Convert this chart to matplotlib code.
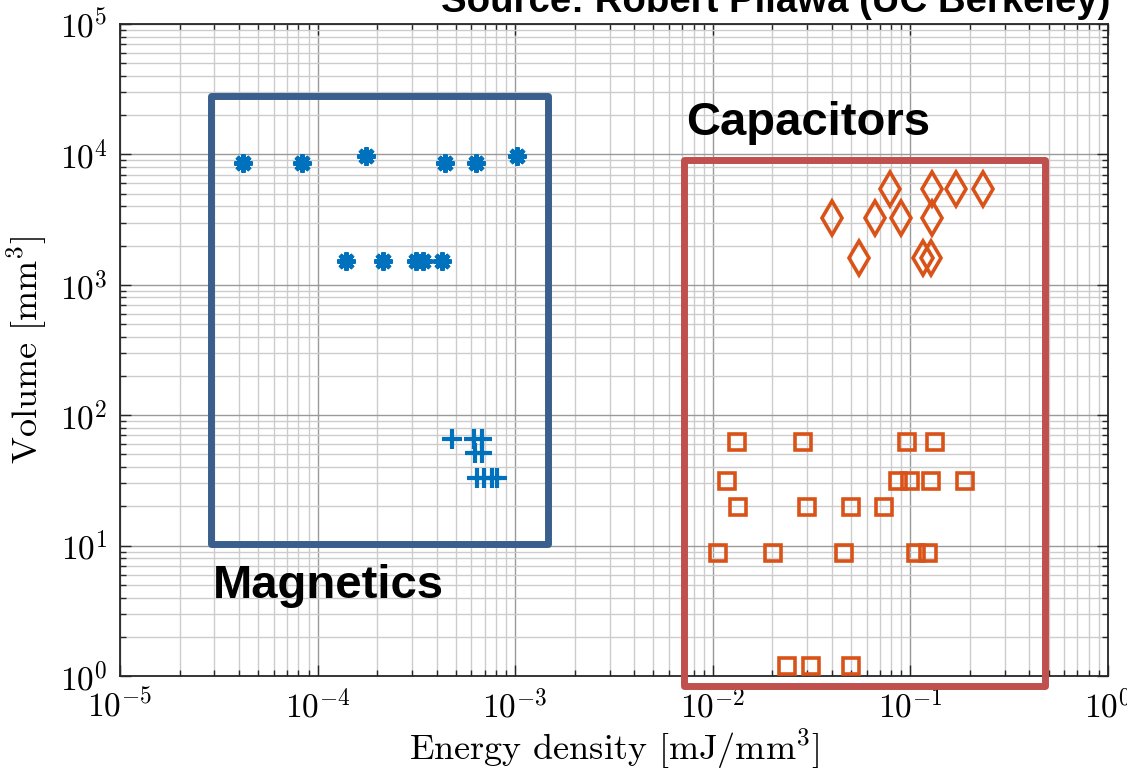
## Energy density vs volume, magnetics and capacitors
import matplotlib as mpl
mpl.use('Agg')
import matplotlib.pyplot as plt
import numpy as np
from matplotlib.patches import Rectangle
from matplotlib.ticker import LogLocator, FuncFormatter, NullFormatter

# magnetics, '*' markers
mag_star_x = [4.18e-5, 8.31e-5, 1.75e-4, 4.41e-4, 6.31e-4, 1.02e-3,
              1.39e-4, 2.14e-4, 3.14e-4, 3.40e-4, 4.28e-4]
mag_star_y = [8550, 8550, 9780, 8550, 8550, 9780,
              1520, 1520, 1520, 1520, 1520]
# magnetics, '+' markers
mag_plus_x = [4.77e-4, 6.15e-4, 6.79e-4, 6.26e-4, 6.79e-4,
              6.40e-4, 6.95e-4, 7.63e-4, 8.09e-4]
mag_plus_y = [65.3, 65.3, 65.3, 51.3, 51.3,
              32.8, 32.8, 32.8, 32.8]
# capacitors, diamonds
cap_d_x = [0.0788, 0.128, 0.170, 0.234,
           0.0400, 0.0662, 0.0896, 0.128,
           0.0550, 0.1154, 0.1266]
cap_d_y = [5430, 5430, 5430, 5430,
           3270, 3270, 3270, 3270,
           1614, 1614, 1614]
# capacitors, squares
cap_s_x = [0.01321, 0.0287, 0.0964, 0.1332,
           0.01184, 0.0865, 0.0995, 0.127, 0.189,
           0.01346, 0.0299, 0.0499, 0.0734,
           0.01067, 0.0202, 0.0463, 0.1063, 0.1232,
           0.0237, 0.0314, 0.0499]
cap_s_y = [62.0, 62.0, 62.0, 62.0,
           31.5, 31.5, 31.5, 31.5, 31.5,
           19.9, 19.9, 19.9, 19.9,
           8.73, 8.73, 8.73, 8.73, 8.73,
           1.19, 1.19, 1.19]

# group boxes (xmin, xmax, ymin, ymax) in data units
mag_box = [2.9e-5, 1.47e-3, 10.3, 2.8e4]
cap_box = [7.15e-3, 0.477, 0.84, 9060]

plt.rcParams['mathtext.fontset'] = 'cm'
plt.rcParams['font.family'] = 'serif'
plt.rcParams['font.serif'] = ['cmr10']
plt.rcParams['axes.formatter.use_mathtext'] = True

blue = '#0072BD'
orange = '#D95319'

fig = plt.figure(figsize=(11.27, 7.69), dpi=100)
ax = fig.add_axes([0.1065, 0.1209, 0.8767, 0.8479])
ax.set_xscale('log')
ax.set_yscale('log')
ax.set_xlim(1e-5, 1)
ax.set_ylim(1, 1e5)

ax.plot(mag_star_x, mag_star_y, ls='none', marker=(8, 2, 0), ms=13, mew=3.2,
        color=blue, zorder=4)
ax.plot(mag_plus_x, mag_plus_y, ls='none', marker='+', ms=14, mew=3,
        color=blue, zorder=4)
ax.plot(cap_d_x, cap_d_y, ls='none', marker='d', ms=17, mew=2.6, mfc='none',
        color=orange, zorder=4)
ax.plot(cap_s_x, cap_s_y, ls='none', marker='s', ms=11, mew=2.6, mfc='none',
        color=orange, zorder=4)

fmt = FuncFormatter(lambda v, p: r'$10^{%d}$' % int(round(np.log10(v))))
for axis in (ax.xaxis, ax.yaxis):
    axis.set_major_locator(LogLocator(base=10, numticks=10))
    axis.set_minor_locator(LogLocator(base=10, subs=range(2, 10), numticks=100))
    axis.set_major_formatter(fmt)
    axis.set_minor_formatter(NullFormatter())

ax.grid(True, which='major', color='#999999', lw=1.0)
ax.grid(True, which='minor', color='#cccccc', lw=1.0)
ax.set_axisbelow(True)
ax.tick_params(which='both', direction='in', top=True, right=True,
               width=1.0, color='#262626')
ax.tick_params(which='major', length=8, labelsize=24, pad=9)
ax.tick_params(which='minor', length=4)
for s in ax.spines.values():
    s.set_linewidth(1.3)
    s.set_color('#262626')

ax.set_xlabel(r'Energy density [mJ/mm$^3$]', fontsize=26, labelpad=2)
ax.set_ylabel(r'Volume [mm$^3$]', fontsize=26, labelpad=8)

for box, col in ((mag_box, '#3A5F8D'), (cap_box, '#C0504D')):
    r = Rectangle((box[0], box[2]), box[1] - box[0], box[3] - box[2],
                  fill=False, ec=col, lw=5, joinstyle='round',
                  clip_on=False, zorder=3)
    ax.add_patch(r)

fig.text(686 / 1127, 1 - 135 / 769, 'Capacitors', family='Liberation Sans',
         weight='bold', fontsize=34, va='baseline')
fig.text(213 / 1127, 1 - 598 / 769, 'Magnetics', family='Liberation Sans',
         weight='bold', fontsize=34, va='baseline')
fig.text(1110 / 1127, 1 - 12 / 769, 'Source: Robert Pilawa (UC Berkeley)',
         family='Liberation Sans', weight='bold', fontsize=27.6,
         va='baseline', ha='right')

fig.savefig('out.png', dpi=100)
